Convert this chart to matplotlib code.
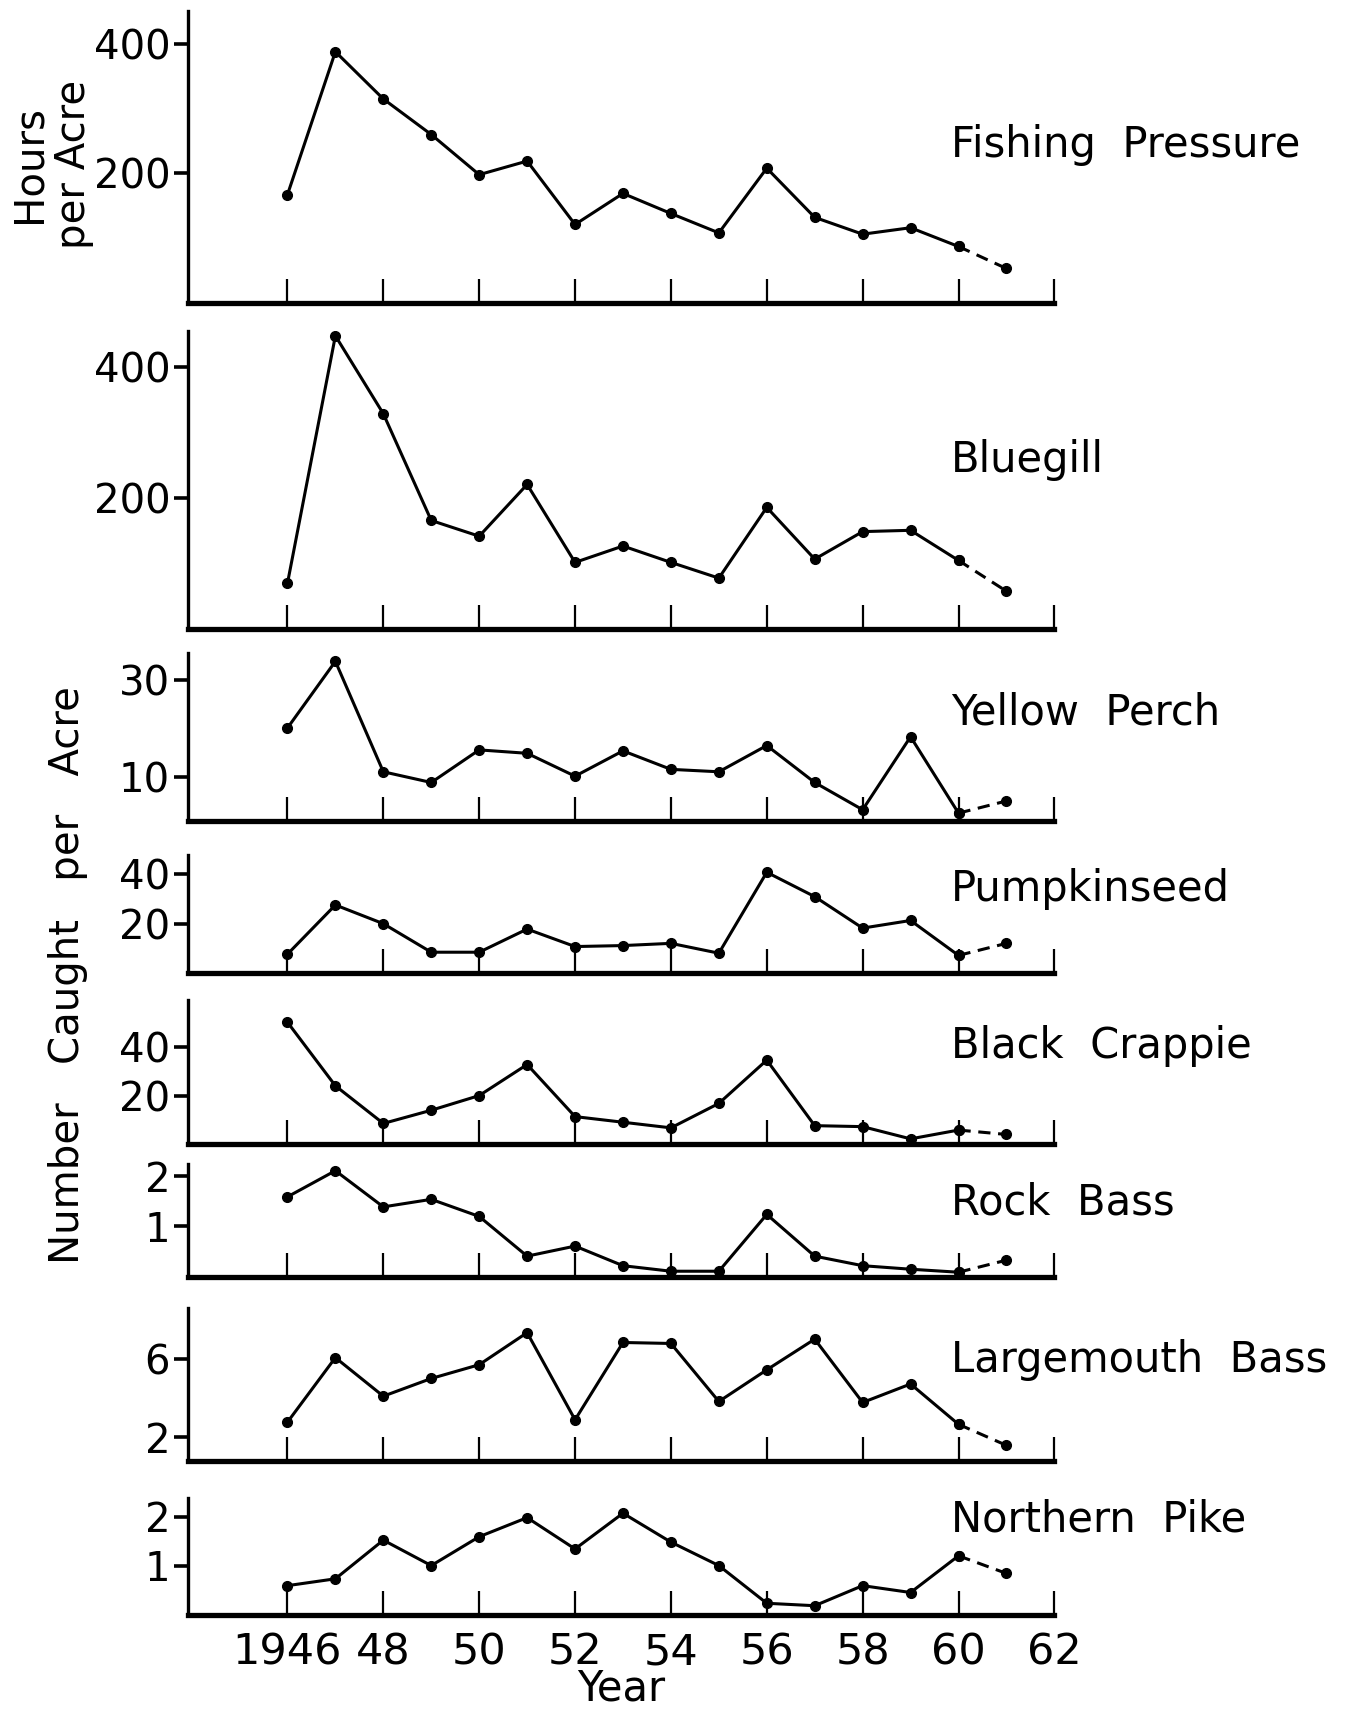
import matplotlib
matplotlib.use("Agg")
import matplotlib.pyplot as plt

plt.rcParams['font.family'] = ['DejaVu Sans']

years = list(range(1946, 1962))

fishing_pressure = [167, 388, 315, 260, 198, 219, 121, 169, 138, 108, 208, 132, 106, 116, 87, 53]
bluegill = [69, 447, 328, 165, 141, 220, 101, 126, 101, 77, 185, 106, 148, 150, 104, 57]
yellow_perch = [20.1, 33.8, 11.1, 8.9, 15.6, 14.9, 10.2, 15.4, 11.6, 11.1, 16.5, 8.9, 3.3, 18.3, 2.6, 5.1]
pumpkinseed = [7.6, 27.6, 20, 8.4, 8.4, 17.8, 10.7, 11.1, 12, 8, 40.9, 31, 18.2, 21.3, 7.1, 12]
black_crappie = [50, 24, 8.6, 14, 20, 32.7, 11.4, 9.1, 6.8, 16.8, 34.5, 7.7, 7.3, 2.3, 5.9, 4.1]
rock_bass = [1.59, 2.11, 1.39, 1.54, 1.2, 0.41, 0.61, 0.22, 0.11, 0.11, 1.24, 0.41, 0.22, 0.15, 0.09, 0.33]
largemouth_bass = [2.78, 6.06, 4.1, 5.0, 5.7, 7.33, 2.9, 6.83, 6.78, 3.83, 5.44, 7.0, 3.78, 4.72, 2.67, 1.6]
northern_pike = [0.59, 0.73, 1.52, 1.0, 1.59, 1.98, 1.34, 2.07, 1.48, 1.0, 0.23, 0.18, 0.59, 0.45, 1.2, 0.84]

names = ["Fishing  Pressure", "Bluegill", "Yellow  Perch", "Pumpkinseed",
         "Black  Crappie", "Rock  Bass", "Largemouth  Bass", "Northern  Pike"]
series = [fishing_pressure, bluegill, yellow_perch, pumpkinseed,
          black_crappie, rock_bass, largemouth_bass, northern_pike]
yticks = [[200, 400], [200, 400], [10, 30], [20, 40], [20, 40], [1, 2], [2, 6], [1, 2]]
ylims = [(0, 451), (0, 454), (1, 35.6), (0, 48), (0, 59), (0, 2.24), (0.78, 8.56), (0, 2.39)]
xticks = list(range(1946, 1963, 2))
xticklabels = ["1946", "48", "50", "52", "54", "56", "58", "60", "62"]

# panel top/bottom in pixels of the 1568-high view
panel_px = [(10, 277), (303, 575), (597, 751), (782, 890),
            (915, 1047), (1065, 1168), (1197, 1337), (1370, 1477)]
label_y = [133, 421, 652, 813, 957, 1100, 1244, 1390]
H = 1568.0

fig = plt.figure(figsize=(13.64, 17.14), dpi=100)
left, width = 0.138, 0.635

for i, (vals, name) in enumerate(zip(series, names)):
    top, bot = panel_px[i]
    ax = fig.add_axes([left, 1 - bot / H, width, (bot - top) / H])
    ax.plot(years[:-1], vals[:-1], color='black', lw=2.2, marker='o', ms=7)
    ax.plot(years[-2:], vals[-2:], color='black', lw=2.2, ls=(0, (4, 2.5)), marker='o', ms=7)
    ax.set_xlim(1943.93, 1962)
    ax.set_ylim(*ylims[i])
    for s in ['top', 'right']:
        ax.spines[s].set_visible(False)
    ax.spines['bottom'].set_linewidth(3.8)
    ax.spines['left'].set_linewidth(2.4)
    ax.set_xticks(xticks)
    ax.tick_params(axis='x', direction='in', length=17, width=1.6, pad=12, labelsize=31)
    ax.tick_params(axis='y', direction='out', length=10, width=2.6, pad=3, labelsize=29)
    ax.set_yticks(yticks[i])
    if i == len(series) - 1:
        ax.set_xticklabels(xticklabels)
        ax.set_xlabel("Year", fontsize=30, labelpad=-4)
    else:
        ax.set_xticklabels([])
    fig.text(0.697, 1 - label_y[i] / H, name, fontsize=30, va='center', ha='left')

fig.text(0.038, 1 - 150 / H, "Hours\nper Acre", rotation=90, fontsize=29,
         ha='center', va='center', multialignment='center', linespacing=1.15)
fig.text(0.05, 1 - 892 / H, "Number   Caught   per   Acre", rotation=90, fontsize=29,
         ha='center', va='center')

fig.savefig("out.png", dpi=100)
